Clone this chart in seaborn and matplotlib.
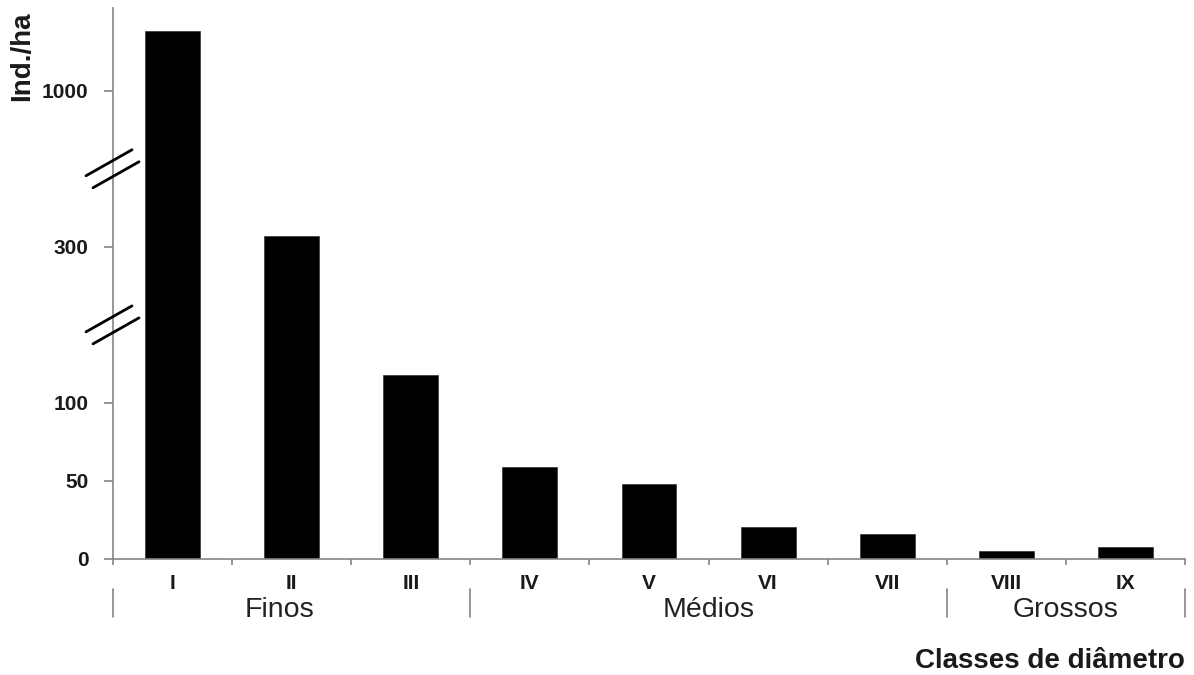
import numpy as np
import matplotlib
matplotlib.use("Agg")
import matplotlib.pyplot as plt
import matplotlib.transforms as mtransforms
from matplotlib.lines import Line2D
import seaborn as sns

# Data (individuals per hectare by diameter class)
classes = ["I", "II", "III", "IV", "V", "VI", "VII", "VIII", "IX"]
ind_ha = [1228, 314, 118, 59, 48, 20.5, 16, 5, 7.7]
y_ticks = [0, 50, 100, 300, 1000]
groups = ["Finos", "Médios", "Grossos"]
group_centers = [0.9, 4.5, 7.5]
group_edges = [-0.5, 2.5, 6.5, 8.5]

# Broken axis: piecewise linear scale (value -> display units)
seg_vals = [0, 150, 200, 400, 700, 1000, 2000]
seg_disp = [0, 3, 3 + 1e-6, 5, 5 + 1e-6, 6, 6 + 1000 / 300]
breaks = [150, 700]


def forward(v):
    return np.interp(v, seg_vals, seg_disp)


def inverse(d):
    return np.interp(d, seg_disp, seg_vals)


sns.set_style("white")
plt.rcParams['font.family'] = ['Liberation Sans', 'DejaVu Sans']

fig = plt.figure(figsize=(11.94, 6.75), dpi=100)
ax = fig.add_axes([113 / 1194, 1 - 559 / 675, (1185 - 113) / 1194, (559 - 8) / 675])

sns.barplot(x=classes, y=ind_ha, color="black", width=0.46, ax=ax,
            edgecolor="#333333", linewidth=0.5)

ax.set_yscale("function", functions=(forward, inverse))
ax.set_ylim(0, inverse(7.06))
ax.set_xlim(-0.5, len(classes) - 0.5)

grey = "#858585"
for side in ["top", "right"]:
    ax.spines[side].set_visible(False)
for side in ["left", "bottom"]:
    ax.spines[side].set_color(grey)
    ax.spines[side].set_linewidth(1.2)

ax.set_yticks(y_ticks)
ax.set_yticklabels([str(t) for t in y_ticks], fontsize=15, fontweight="bold", color="#1a1a1a")
ax.yaxis.set_minor_locator(matplotlib.ticker.NullLocator())
ax.tick_params(axis="y", which="major", left=True, length=6.5, width=1.2, color=grey, pad=11)

ax.set_xticks(range(len(classes)))
ax.set_xticklabels(classes, fontsize=15, fontweight="bold", color="#1a1a1a")
ax.set_xticks(np.arange(-0.5, len(classes)), minor=True)
ax.tick_params(axis="x", which="major", bottom=True, length=0, pad=11)
ax.tick_params(axis="x", which="minor", bottom=True, length=4.5, width=1.2, color=grey)
ax.set_xlabel("")
ax.set_ylabel("")

# Group labels and separators below the class labels
xtrans = ax.get_xaxis_transform()
for name, xc in zip(groups, group_centers):
    ax.text(xc, -0.093, name, transform=xtrans, ha="center", va="center",
            fontsize=20.5, color="#222222", clip_on=False)
for x in group_edges:
    ax.plot([x, x], [-0.055, -0.106], transform=xtrans, color=grey, lw=1.2, clip_on=False)

# Break marks on the y axis
fig.canvas.draw()
x0 = ax.transAxes.transform((0, 0))[0]
for b in breaks:
    yb = ax.transData.transform((0, b))[1]
    for dx, dy in [(-4, 6), (3, -6)]:
        cx, cy = x0 + dx, yb + dy
        fig.add_artist(Line2D([cx - 23, cx + 23], [cy - 13, cy + 13],
                              transform=mtransforms.IdentityTransform(),
                              color="black", lw=2))

fig.text(22 / 1194, 1 - 56 / 675, "Ind./ha", rotation=90, ha="center", va="center",
         fontsize=20, fontweight="bold", color="#1a1a1a")
fig.text(1185 / 1194, 1 - 661 / 675, "Classes de diâmetro", ha="right", va="center",
         fontsize=20, fontweight="bold", color="#1a1a1a")

fig.savefig("out.png", dpi=100)
